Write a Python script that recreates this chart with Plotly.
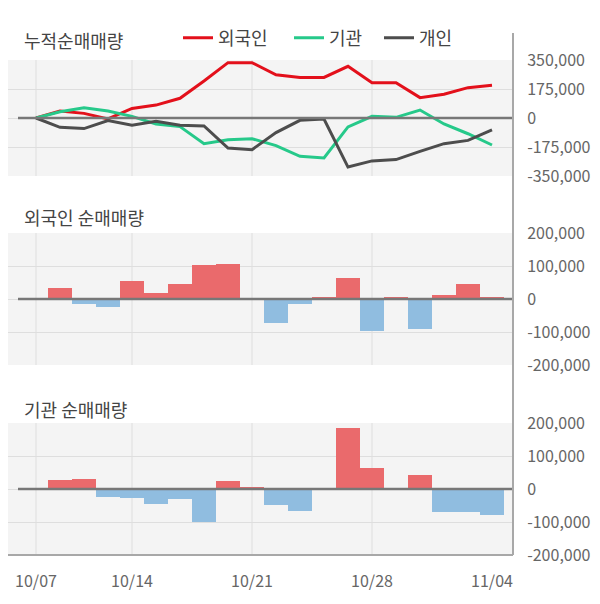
import plotly.graph_objects as go

dates = ["10/07", "10/08", "10/10", "10/11", "10/14", "10/15", "10/16", "10/17", "10/18", "10/21",
         "10/22", "10/23", "10/24", "10/25", "10/28", "10/29", "10/30", "10/31", "11/01", "11/04"]

# 누적순매매량
cum_foreign = [0, 42000, 28000, -6000, 58000, 78000, 119000, 223000, 334000, 334000,
               261000, 245000, 245000, 312000, 213000, 213000, 123000, 143000, 183000, 197000]
cum_inst = [0, 38000, 62000, 42000, 10000, -36000, -52000, -155000, -131000, -125000,
            -167000, -231000, -241000, -54000, 10000, 4000, 48000, -36000, -95000, -163000]
cum_indiv = [0, -56000, -64000, -16000, -44000, -20000, -44000, -48000, -181000, -191000,
             -88000, -14000, -6000, -296000, -259000, -251000, -201000, -155000, -135000, -72000]

# 일별 순매매량
foreign = [0, 34000, -16000, -23000, 56000, 19000, 46000, 103000, 107000, 0,
           -73000, -16000, 4000, 64000, -97000, 4000, -91000, 13000, 46000, 7000]
inst = [0, 26000, 29000, -23000, -26000, -44000, -29000, -99000, 23000, 7000,
        -47000, -66000, 0, 186000, 65000, 0, 43000, -69000, -69000, -78000]

cum_ticks = [-350000, -175000, 0, 175000, 350000]
bar_ticks = [-200000, -100000, 0, 100000, 200000]
date_ticks = ["10/07", "10/14", "10/21", "10/28", "11/04"]
grid_dates = ["10/07", "10/14", "10/21", "10/28"]

FONT = "Noto Sans CJK KR"
POS, NEG = "#ea6a6c", "#90bde0"
GRID = "#dedede"

# 페이지 여백(8px)을 빼고 그림 크기를 잡는다
OFF = 8
W, H = 600 - OFF, 604 - OFF

def px(x):
    return (x - OFF) / W

def py(y):
    return 1 - (y - OFF) / H

fig = go.Figure()

series = [("외국인", cum_foreign, "#e3101b", "legend", 184),
          ("기관", cum_inst, "#26c98a", "legend2", 295),
          ("개인", cum_indiv, "#4d4d4d", "legend3", 385)]
for name, ys, color, lg, _ in series:
    fig.add_trace(go.Scatter(x=dates, y=ys, name=name, mode="lines", legend=lg,
                             line=dict(color=color, width=3), xaxis="x", yaxis="y"))

fig.add_trace(go.Bar(x=dates, y=foreign, width=0.96, showlegend=False,
                     marker=dict(color=[POS if v >= 0 else NEG for v in foreign], line_width=0),
                     xaxis="x2", yaxis="y2"))
fig.add_trace(go.Bar(x=dates, y=inst, width=0.96, showlegend=False,
                     marker=dict(color=[POS if v >= 0 else NEG for v in inst], line_width=0),
                     xaxis="x3", yaxis="y3"))

xdom = [0, px(513)]
# 왼쪽 끝 8px은 잘리므로 범위도 그만큼 줄인다
xr = [-1.5 + OFF / 24, 19.875]
common_x = dict(type="category", range=xr, domain=xdom, showgrid=False, zeroline=False,
                showline=False, fixedrange=True, automargin=False)
fig.update_layout(
    xaxis=dict(common_x, anchor="y", showticklabels=False),
    xaxis2=dict(common_x, anchor="y2", showticklabels=False),
    xaxis3=dict(common_x, anchor="y3", tickmode="array", tickvals=date_ticks, ticktext=date_ticks,
                ticks="outside", ticklen=12, tickcolor="rgba(0,0,0,0)",
                tickfont=dict(size=16, color="#666")),
)

def yax(dom, anchor, ticks, rng):
    return dict(domain=dom, anchor=anchor, side="right", range=rng, tickmode="array",
                tickvals=ticks, ticktext=[f"{v:,}" for v in ticks], showgrid=True,
                gridcolor=GRID, gridwidth=1, zeroline=False, showline=False, automargin=False,
                ticks="outside", ticklen=10, tickcolor="rgba(0,0,0,0)",
                tickfont=dict(size=16, color="#666"))

fig.update_layout(
    yaxis=yax([py(176), py(60)], "x", cum_ticks, [-350000, 350000]),
    yaxis2=yax([py(365), py(233)], "x2", bar_ticks, [-200000, 200000]),
    yaxis3=yax([py(555), py(423)], "x3", bar_ticks, [-200000, 200000]),
)

shapes = []
# 세로 격자선
for xa, ya in [("x", "y"), ("x2", "y2"), ("x3", "y3")]:
    for d in grid_dates:
        i = dates.index(d)
        shapes.append(dict(type="line", xref=xa, yref=f"{ya} domain", x0=i, x1=i, y0=0, y1=1,
                           line=dict(color=GRID, width=1), layer="below"))
    # 0 기준선
    shapes.append(dict(type="line", xref=xa, yref=ya, x0=-0.75, x1=xr[1], y0=0, y1=0,
                       line=dict(color="#777", width=2.5)))
# 오른쪽 축선, 아래 축선
shapes.append(dict(type="line", xref="paper", yref="paper", x0=xdom[1], x1=xdom[1],
                   y0=py(555), y1=py(33), line=dict(color="#a8a8a8", width=2)))
shapes.append(dict(type="line", xref="paper", yref="paper", x0=0, x1=xdom[1],
                   y0=py(555), y1=py(555), line=dict(color="#a8a8a8", width=2)))

titles = [("누적순매매량", 40), ("외국인 순매매량", 217), ("기관 순매매량", 409)]
annotations = [dict(text=t, xref="paper", yref="paper", x=px(22), y=py(y),
                    xanchor="left", yanchor="middle", showarrow=False,
                    font=dict(size=18, color="#444")) for t, y in titles]

legends = {}
for _, _, _, lg, sx in series:
    legends[lg] = dict(orientation="h", x=px(sx - 6), y=py(38), xanchor="left", yanchor="middle",
                       font=dict(size=18, color="#444"), bgcolor="rgba(0,0,0,0)")

fig.update_layout(
    width=W, height=H,
    margin=dict(l=0, r=0, t=0, b=0),
    paper_bgcolor="white",
    plot_bgcolor="#f4f4f4",
    font=dict(family=FONT, color="#444"),
    bargap=0,
    shapes=shapes,
    annotations=annotations,
    **legends,
)

fig.write_html("out.html")
